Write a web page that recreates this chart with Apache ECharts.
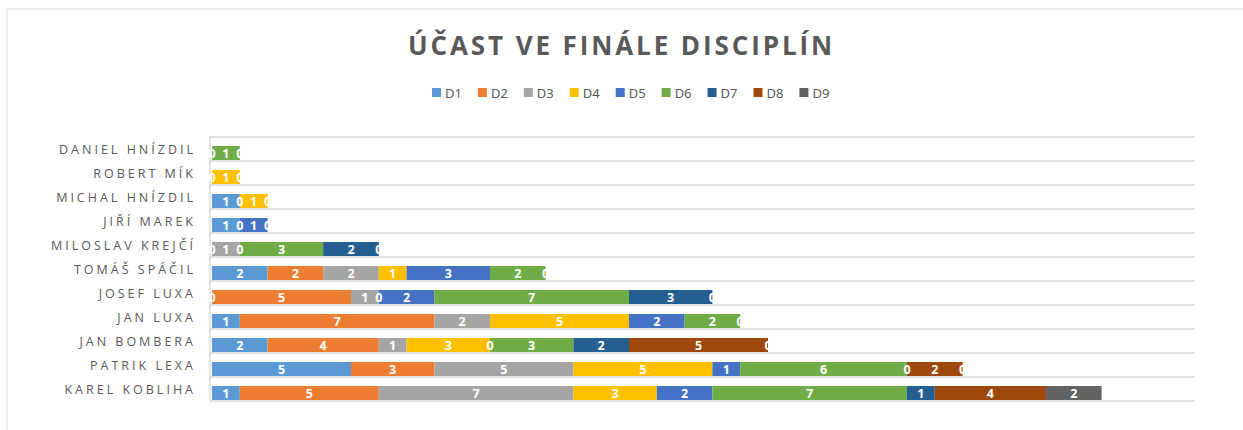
<!DOCTYPE html>
<html>
<head>
<meta charset="utf-8">
<title>Účast ve finále disciplín</title>
<script src="https://cdn.jsdelivr.net/npm/echarts@6/dist/echarts.min.js"></script>
<style>
  html, body { margin: 0; padding: 0; background: #fff; }
  #chart { width: 1243px; height: 430px; }
  /* prostrkání verzálek (titulek + jména) */
  #chart text[style*="Open Sans"] { letter-spacing: 2.9px; }
  #chart text[style*="Lato"] { letter-spacing: 3px; }
</style>
</head>
<body>
<div id="chart"></div>
<script>
// kategorie (odspodu nahoru, jak je kreslí osa)
const names = [
  'KAREL KOBLIHA', 'PATRIK LEXA', 'JAN BOMBERA', 'JAN LUXA', 'JOSEF LUXA',
  'TOMÁŠ SPÁČIL', 'MILOSLAV KREJČÍ', 'JIŘÍ MAREK', 'MICHAL HNÍZDIL',
  'ROBERT MÍK', 'DANIEL HNÍZDIL'
];
const disciplines = ['D1', 'D2', 'D3', 'D4', 'D5', 'D6', 'D7', 'D8', 'D9'];
const colors = ['#5B9BD5', '#ED7D31', '#A5A5A5', '#FFC000', '#4472C4', '#70AD47', '#255E91', '#9E480E', '#636363'];

// null = prázdná buňka, 0 = nula (popisek se zobrazí)
const d1 = [1, 5, 2, 1, 0, 2, null, 1, 1, null, null];
const d2 = [5, 3, 4, 7, 5, 2, 0, null, null, null, null];
const d3 = [7, 5, 1, 2, 1, 2, 1, null, 0, 0, null];
const d4 = [3, 5, 3, 5, 0, 1, 0, 0, 1, 1, null];
const d5 = [2, 1, 0, 2, 2, 3, null, 1, 0, 0, 0];
const d6 = [7, 6, 3, 2, 7, 2, 3, 0, null, null, 1];
const d7 = [1, 0, 2, 0, 3, 0, 2, null, null, null, 0];
const d8 = [4, 2, 5, null, 0, null, 0, null, null, null, null];
const d9 = [2, 0, 0, null, null, null, null, null, null, null, null];
const seriesValues = [d1, d2, d3, d4, d5, d6, d7, d8, d9];

const chart = echarts.init(document.getElementById('chart'), null, { renderer: 'svg' });

const plotTop = 137;
const plotHeight = 264;

const series = disciplines.map((name, i) => ({
  name: name,
  type: 'bar',
  stack: 'total',
  xAxisIndex: 0,
  yAxisIndex: 0,
  barWidth: 14,
  itemStyle: { color: colors[i] },
  label: {
    show: true,
    position: 'inside',
    color: '#fff',
    fontSize: 12.5,
    fontWeight: 'bold',
    fontFamily: 'Noto Sans',
    formatter: (p) => (p.value == null ? '' : String(p.value))
  },
  emphasis: { disabled: true },
  data: seriesValues[i]
}));

chart.setOption({
  backgroundColor: '#fff',
  animation: false,
  color: colors,
  title: {
    text: 'ÚČAST VE FINÁLE DISCIPLÍN',
    left: 'center',
    top: 27,
    textStyle: {
      fontFamily: 'Open Sans',
      fontSize: 26,
      fontWeight: 'bold',
      color: '#595959'
    }
  },
  legend: {
    top: 81,
    left: 427,
    itemWidth: 9,
    itemHeight: 9,
    itemGap: 16,
    icon: 'rect',
    selectedMode: false,
    textStyle: { color: '#595959', fontSize: 13, fontFamily: 'Noto Sans', padding: [0, 0, 0, -1] },
    data: disciplines
  },
  graphic: [{
    type: 'rect',
    shape: { x: 7, y: 9, width: 1240, height: 440 },
    style: { fill: 'none', stroke: '#d9d9d9', lineWidth: 1 },
    silent: true
  }],
  grid: [
    // sloupce (posunuté dolů kvůli 3D dojmu)
    { left: 212, top: plotTop + 4, width: 973, height: plotHeight },
    // mřížka a popisky
    { left: 210, top: plotTop, width: 985, height: plotHeight }
  ],
  xAxis: [
    { gridIndex: 0, type: 'value', min: 0, max: 35, show: false },
    { gridIndex: 1, type: 'value', min: 0, max: 35, show: false }
  ],
  yAxis: [
    { gridIndex: 0, type: 'category', data: names, show: false },
    {
      gridIndex: 1,
      type: 'category',
      data: names,
      axisTick: { show: false },
      axisLine: { show: true, lineStyle: { color: '#d9d9d9', width: 1.5 } },
      axisLabel: {
        color: '#595959',
        fontSize: 12.5,
        fontFamily: 'Open Sans, Lato',
        margin: 14
      },
      splitLine: { show: true, lineStyle: { color: '#d9d9d9', width: 1.5 } }
    }
  ],
  series: series
});
</script>
</body>
</html>
